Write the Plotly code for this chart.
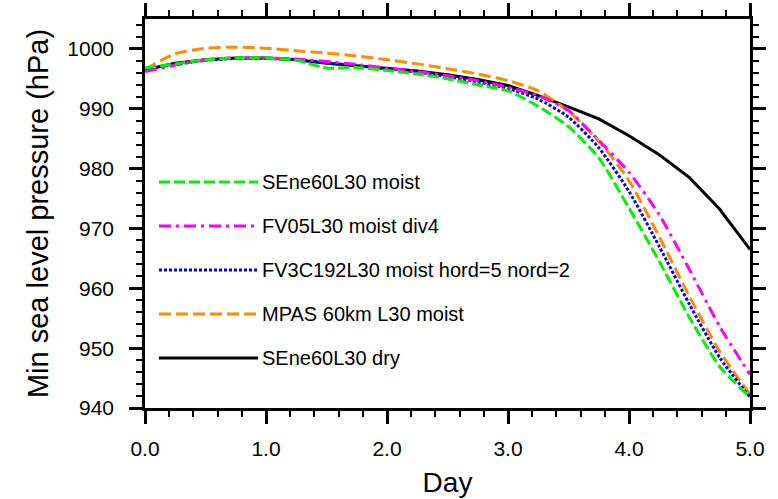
import plotly.graph_objects as go

days = [0.0, 0.25, 0.5, 0.75, 1.0, 1.25, 1.5, 1.75, 2.0, 2.25, 2.5, 2.75,
        3.0, 3.25, 3.5, 3.75, 4.0, 4.25, 4.5, 4.75, 5.0]

se_moist = [996.8, 997.5, 998.2, 998.5, 998.5, 998.1, 996.8, 996.9, 996.4, 995.8, 995.0, 994.0,
            993.0, 990.4, 987.0, 981.8, 973.4, 964.5, 955.1, 946.9, 941.8]
fv05_moist = [996.2, 997.3, 998.2, 998.5, 998.5, 998.3, 997.9, 997.4, 996.8, 996.2, 995.5, 994.7,
              993.6, 992.2, 989.7, 984.7, 979.4, 972.3, 963.1, 953.6, 945.6]
fv3_moist = [996.6, 997.4, 998.1, 998.4, 998.4, 998.2, 997.7, 997.2, 996.7, 996.1, 995.4, 994.5,
             993.4, 991.6, 988.6, 983.5, 976.2, 967.0, 957.3, 948.4, 941.8]
mpas_moist = [996.6, 999.2, 1000.1, 1000.3, 1000.1, 999.7, 999.3, 998.8, 998.2, 997.5, 996.7, 995.8,
              994.7, 993.0, 989.6, 984.6, 978.0, 968.6, 958.6, 949.4, 942.3]
se_dry = [996.5, 997.6, 998.2, 998.5, 998.5, 998.2, 997.6, 997.2, 996.8, 996.3, 995.7, 994.9,
          993.9, 992.2, 990.3, 988.3, 985.5, 982.3, 978.5, 973.2, 966.5]

names = ["SEne60L30 moist", "FV05L30 moist div4", "FV3C192L30 moist hord=5 nord=2",
         "MPAS 60km L30 moist", "SEne60L30 dry"]
colors = ["#00ee00", "#ff00ff", "#0000ee", "#ff8c00", "black"]
dashes = ["11px,4px", "12px,5px,3px,5px", "3px,2px", "12px,5px", "solid"]
shapes_ = ["spline", "spline", "spline", "spline", "linear"]
series = [se_moist, fv05_moist, fv3_moist, mpas_moist, se_dry]

FONT = "Liberation Sans, Arial"

fig = go.Figure()
draw_order = [4, 3, 2, 1, 0]
for i in draw_order:
    fig.add_trace(go.Scatter(x=days, y=series[i], mode="lines", name=names[i],
                             line=dict(color=colors[i], width=3, dash=dashes[i],
                                       shape=shapes_[i], smoothing=0.6),
                             showlegend=False))

# manual legend (long sample lines as in the original)
L, R, T, B = 145, 750, 19, 408
def px(x):
    return (x - L) / (R - L)
def py(y):
    return (B - y) / (B - T)

leg_y = [182, 226, 270, 314, 358]
for i in range(5):
    fig.add_shape(type="line", xref="paper", yref="paper",
                  x0=px(159), x1=px(258), y0=py(leg_y[i]), y1=py(leg_y[i]),
                  line=dict(color=colors[i], width=3, dash=dashes[i]))
    fig.add_annotation(xref="paper", yref="paper", x=px(260), y=py(leg_y[i]),
                       text=names[i], showarrow=False, xanchor="left", yanchor="middle",
                       font=dict(size=20, color="black", family=FONT))

axis_common = dict(showline=True, linecolor="black", linewidth=2.5, mirror="ticks",
                   ticks="outside", ticklen=13, tickwidth=2.5, tickcolor="black",
                   showgrid=False, zeroline=False, automargin=False,
                   tickfont=dict(size=21, color="black", family=FONT))

fig.update_xaxes(range=[0, 5], dtick=1, tick0=0, tickformat=".1f", ticklabelstandoff=7,
                 minor=dict(dtick=0.2, ticklen=6, tickwidth=1.5, tickcolor="black", ticks="outside"),
                 title=dict(text="Day", standoff=14,
                            font=dict(size=28, color="black", family=FONT)),
                 **axis_common)
fig.update_yaxes(range=[940, 1005], dtick=10, tick0=940, ticklabelstandoff=11,
                 minor=dict(dtick=2, ticklen=6, tickwidth=1.5, tickcolor="black", ticks="outside"),
                 title=dict(text="Min sea level pressure (hPa)", standoff=11,
                            font=dict(size=29, color="black", family=FONT)),
                 **axis_common)

fig.update_layout(width=778, height=499, margin=dict(l=L, r=778 - R, t=T, b=499 - B),
                  plot_bgcolor="white", paper_bgcolor="white",
                  font=dict(family=FONT, color="black"))

fig.write_html("out.html")
